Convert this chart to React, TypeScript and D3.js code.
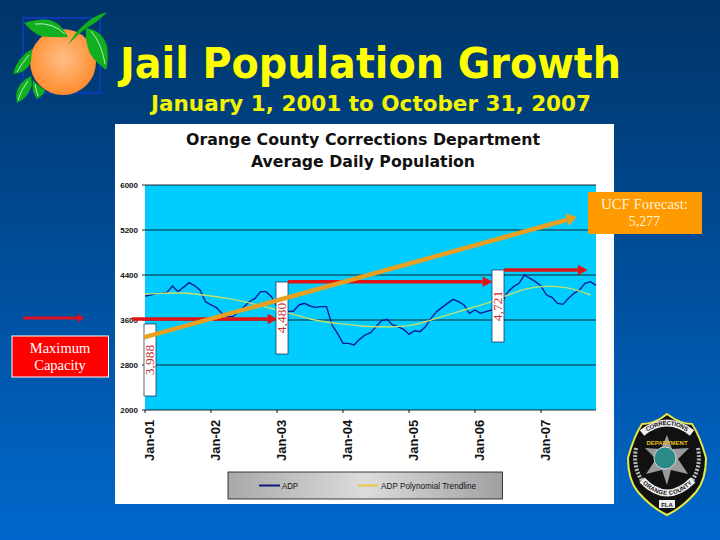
import React from "react";
import * as d3 from "d3";

const W = 720;
const H = 540;
const PLOT = { left: 145, right: 596, top: 185, bottom: 410 };

const yTicks = [2000, 2800, 3600, 4400, 5200, 6000];
const xTickLabels = ["Jan-01", "Jan-02", "Jan-03", "Jan-04", "Jan-05", "Jan-06", "Jan-07"];
const xTickMonths = [0, 12, 24, 36, 48, 60, 72];

// monthly average daily population
const adp = [
  4027, 4044, 4074, 4074, 4092, 4204, 4104, 4180, 4264, 4210, 4133, 3926,
  3867, 3819, 3718, 3660, 3660, 3748, 3837, 3926, 3985, 4104, 4104, 4015,
  3837, 3748, 3748, 3760, 3867, 3896, 3849, 3825, 3837, 3837, 3511, 3363,
  3185, 3185, 3156, 3256, 3333, 3375, 3481, 3588, 3612, 3511, 3481, 3434,
  3345, 3410, 3393, 3481, 3630, 3748, 3825, 3896, 3967, 3926, 3867, 3718,
  3778, 3718, 3748, 3778, 3837, 3926, 4104, 4193, 4252, 4400, 4341, 4281,
  4204, 4044, 4003, 3896, 3878, 3985, 4074, 4133, 4252, 4281, 4216,
];

const trendMonths = [0, 3, 6, 9, 12, 15, 18, 21, 24, 27, 30, 33, 36, 39, 42, 45, 48, 51, 54, 57, 60, 63, 66, 69, 72, 75, 78, 81];
const trendValues = [
  4062, 4074, 4080, 4062, 4027, 3985, 3926, 3855, 3778, 3701, 3618, 3564, 3529, 3499,
  3481, 3481, 3499, 3570, 3659, 3748, 3837, 3926, 4044, 4145, 4193, 4193, 4145, 4044,
];

const capacityLabels = ["3,988", "4,480", "4,721"];
const capacityValues = [3620, 4281, 4489];
const capacityStart = [-2.4, 26, 65.3];
const capacityEnd = [24.1, 63.2, 80.5];
const forecastMonths = [-0.2, 78.5];
const forecastValues = [3290, 5430];

const x = d3.scaleLinear().domain([0, 82]).range([PLOT.left, PLOT.right]);
const y = d3.scaleLinear().domain([2000, 6000]).range([PLOT.bottom, PLOT.top]);

const adpLine = d3
  .line<number>()
  .x((_, i) => x(i))
  .y((d) => y(d));

const trendLine = d3
  .line<number>()
  .x((_, i) => x(trendMonths[i]))
  .y((d) => y(d))
  .curve(d3.curveCatmullRom);

const Arrow = ({ x1, y1, x2, y2, color, width, head }: any) => {
  const a = Math.atan2(y2 - y1, x2 - x1);
  const bx = x2 - Math.cos(a) * head;
  const by = y2 - Math.sin(a) * head;
  const nx = -Math.sin(a) * width * 1.5;
  const ny = Math.cos(a) * width * 1.5;
  return (
    <g>
      <line x1={x1} y1={y1} x2={bx} y2={by} stroke={color} strokeWidth={width} />
      <polygon points={`${x2},${y2} ${bx + nx},${by + ny} ${bx - nx},${by - ny}`} fill={color} />
    </g>
  );
};

const Orange = () => (
  <g>
    <rect x={23} y={18} width={77} height={75} fill="none" stroke="#0a3cb0" strokeWidth={2} />
    <circle cx={63} cy={62} r={33} fill="url(#orangeFill)" />
    <g fill="#10b020">
      <path d="M24,23 Q40,18 50,20 Q62,24 68,37 Q45,38 38,35 Q30,30 24,23Z" />
      <path d="M86,28 Q102,30 107,46 Q109,60 106,70 Q90,58 88,48 Q85,38 86,28Z" />
      <path d="M68,45 Q75,32 85,24 Q93,16 107,12 Q98,22 88,27 Q78,34 68,45Z" />
      <path d="M32,49 Q18,56 13,74 Q26,73 31,62Z" />
      <path d="M31,76 Q18,82 16,95 L17,103 Q28,98 32,85Z" />
      <path d="M33,80 Q31,92 37,99 Q45,94 45,90 Q38,86 33,80Z" />
    </g>
    <path
      d="M35,24 Q52,22 65,34 M91,31 Q102,44 105,64 M29,55 Q22,63 17,72 M28,81 Q21,90 18,100 M35,84 Q36,90 38,96"
      fill="none"
      stroke="#e8f8e0"
      strokeWidth={0.8}
    />
  </g>
);

const Badge = () => (
  <g fontFamily="Liberation Sans" fontWeight="bold">
    <path
      d="M667,414 Q680,424 692,424 Q700,436 706,458 Q706,480 696,492 Q682,508 667,515 Q652,508 638,492 Q628,480 628,458 Q634,436 642,424 Q655,424 667,414Z"
      fill="#111"
      stroke="#e8e840"
      strokeWidth={2}
    />
    <path d="M636,448 Q632,470 646,486 M698,448 Q702,470 688,486" fill="none" stroke="#bbb" strokeWidth={4} strokeDasharray="2 1.5" />
    <polygon
      points="667,435 672,449 689,448 678,459 688,474 671,470 667,485 662,470 646,474 656,459 645,448 661,449"
      fill="#9a9a9a"
    />
    <path id="badgeTop" d="M642,433 Q667,413 692,433" fill="none" stroke="#eee" strokeWidth={7} />
    <path id="badgeBottom" d="M642,480 Q667,506 693,480" fill="none" stroke="#eee" strokeWidth={7} />
    <text fontSize={6} fill="#111" dy={2}>
      <textPath href="#badgeTop" startOffset="50%" textAnchor="middle">CORRECTIONS</textPath>
    </text>
    <text fontSize={6} fill="#111" dy={2}>
      <textPath href="#badgeBottom" startOffset="50%" textAnchor="middle">ORANGE COUNTY</textPath>
    </text>
    <circle cx={665} cy={458} r={11} fill="#2a8a88" stroke="#d8d8d8" />
    <text x={667} y={445} textAnchor="middle" fontSize={6} fill="#e8c020">DEPARTMENT</text>
    <rect x={659} y={500} width={16} height={8} fill="#eee" />
    <text x={667} y={506.5} textAnchor="middle" fontSize={6} fill="#111">FLA</text>
  </g>
);

export default function App() {
  return (
    <svg
      width={W}
      height={H}
      viewBox={`0 0 ${W} ${H}`}
      style={{ position: "absolute", left: 0, top: 0 }}
    >
      <defs>
        <linearGradient id="slideBg" x1="0" y1="0" x2="0" y2="1">
          <stop offset="0" stopColor="#003468" />
          <stop offset="1" stopColor="#0068cc" />
        </linearGradient>
        <radialGradient id="orangeFill" cx="0.5" cy="0.45" r="0.55">
          <stop offset="0" stopColor="#ffbe88" />
          <stop offset="1" stopColor="#ff8c2c" />
        </radialGradient>
        <linearGradient id="legendBg" x1="0" y1="0" x2="1" y2="0">
          <stop offset="0" stopColor="#a8a8a8" />
          <stop offset="0.5" stopColor="#dcdcdc" />
          <stop offset="1" stopColor="#a0a0a0" />
        </linearGradient>
      </defs>

      <rect width={W} height={H} fill="url(#slideBg)" />
      <Orange />

      <text x={120} y={78} fontFamily="DejaVu Sans" fontWeight="bold" fontSize={43} fill="#ffff00" textLength={501} lengthAdjust="spacingAndGlyphs">
        Jail Population Growth
      </text>
      <text x={151} y={111} fontFamily="DejaVu Sans" fontWeight="bold" fontSize={22} fill="#f4f400" textLength={440} lengthAdjust="spacingAndGlyphs">
        January 1, 2001 to October 31, 2007
      </text>

      <rect x={115} y={124} width={499} height={380} fill="#ffffff" />
      <text x={186} y={145} fontFamily="DejaVu Sans" fontWeight="bold" fontSize={16} fill="#111" textLength={354} lengthAdjust="spacingAndGlyphs">
        Orange County Corrections Department
      </text>
      <text x={251} y={167} fontFamily="DejaVu Sans" fontWeight="bold" fontSize={16} fill="#111" textLength={224} lengthAdjust="spacingAndGlyphs">
        Average Daily Population
      </text>

      <rect x={PLOT.left} y={PLOT.top} width={PLOT.right - PLOT.left} height={PLOT.bottom - PLOT.top} fill="#00ccff" />
      {yTicks.map((t) => (
        <g key={t}>
          <line x1={PLOT.left - 3} x2={PLOT.right} y1={y(t)} y2={y(t)} stroke="#111" strokeWidth={0.9} />
          <text x={PLOT.left - 7} y={y(t) + 3} textAnchor="end" fontFamily="Liberation Sans" fontWeight="bold" fontSize={8} fill="#111">
            {t}
          </text>
        </g>
      ))}
      {xTickMonths.map((m, i) => (
        <g key={m} transform={`translate(${x(m)},${PLOT.bottom})`}>
          <line y2={3} stroke="#111" />
          <text
            transform="translate(8.5,51) rotate(-90)"
            fontFamily="Liberation Sans"
            fontWeight="bold"
            fontSize={13}
            fill="#111"
          >
            {xTickLabels[i]}
          </text>
        </g>
      ))}

      <path d={adpLine(adp) ?? ""} fill="none" stroke="#0a1a9c" strokeWidth={1.4} />
      <path d={trendLine(trendValues) ?? ""} fill="none" stroke="#c0e070" strokeWidth={1.4} />

      {capacityValues.map((v, i) => (
        <Arrow
          key={i}
          x1={x(capacityStart[i])}
          y1={y(v)}
          x2={x(capacityEnd[i])}
          y2={y(v)}
          color="#e01414"
          width={3.5}
          head={10}
        />
      ))}

      {capacityLabels.map((label, i) => {
        const bx = [144, 276, 492][i];
        const by = [324, 282, 270][i];
        return (
          <g key={label}>
            <rect x={bx} y={by} width={12} height={72} fill="#fff" stroke="#224" strokeWidth={0.7} />
            <text
              transform={`translate(${bx + 10},${by + 36}) rotate(-90)`}
              textAnchor="middle"
              fontFamily="Liberation Serif"
              fontSize={13.5}
              fill="#c83030"
            >
              {label}
            </text>
          </g>
        );
      })}

      <Arrow
        x1={x(forecastMonths[0])}
        y1={y(forecastValues[0])}
        x2={x(forecastMonths[1])}
        y2={y(forecastValues[1])}
        color="#e8a020"
        width={4.5}
        head={10}
      />

      <Arrow x1={23} y1={318} x2={84} y2={318} color="#e01020" width={3} head={6} />
      <rect x={12} y={336} width={96.5} height={41} fill="#ff0000" stroke="#fff" />
      <text x={60} y={353} textAnchor="middle" fontFamily="Liberation Serif" fontSize={14.5} fill="#fff">Maximum</text>
      <text x={60} y={370} textAnchor="middle" fontFamily="Liberation Serif" fontSize={14.5} fill="#fff">Capacity</text>

      <rect x={588} y={192} width={114} height={42} fill="#ff9a00" />
      <text x={644.5} y={209} textAnchor="middle" fontFamily="Liberation Serif" fontSize={14} fill="#fff4d8" textLength={87} lengthAdjust="spacingAndGlyphs">UCF Forecast:</text>
      <text x={644.5} y={226} textAnchor="middle" fontFamily="Liberation Serif" fontSize={14} fill="#fff4d8">5,277</text>

      <rect x={228} y={472} width={274.5} height={27} fill="url(#legendBg)" stroke="#111" strokeWidth={0.8} />
      <line x1={259} x2={280} y1={485.5} y2={485.5} stroke="#0a1a7c" strokeWidth={2} />
      <text x={282} y={489} fontFamily="Liberation Sans" fontSize={8.5} fill="#111" textLength={16} lengthAdjust="spacingAndGlyphs">ADP</text>
      <line x1={358} x2={378} y1={485.5} y2={485.5} stroke="#e8c860" strokeWidth={2.5} />
      <text x={381} y={489} fontFamily="Liberation Sans" fontSize={8.5} fill="#111" textLength={95} lengthAdjust="spacingAndGlyphs">ADP Polynomial Trendline</text>

      <Badge />
    </svg>
  );
}
